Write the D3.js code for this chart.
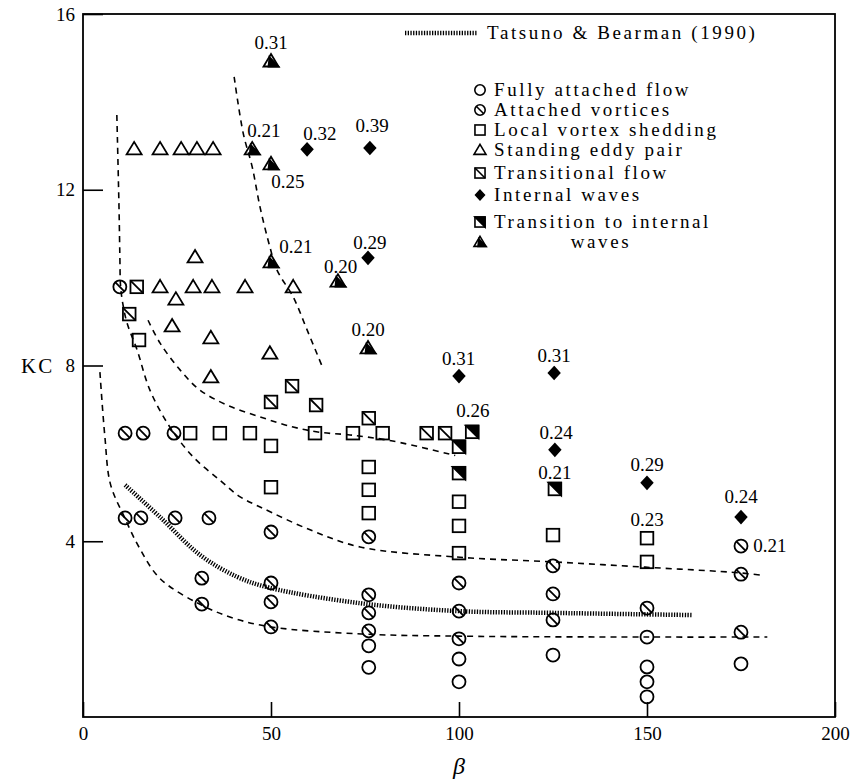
<!DOCTYPE html>
<html>
<head>
<meta charset="utf-8">
<script src="https://cdn.jsdelivr.net/npm/d3@7"></script>
<style>
  html, body { margin: 0; padding: 0; background: #fff; }
  svg { display: block; }
</style>
</head>
<body>
<div id="chart"></div>
<script>
// values: [beta, KC]
const fullyAttached = [[76, 1.62], [76, 1.13], [100, 1.32], [100, 0.8], [125, 1.41],
  [150, 1.82], [150, 1.14], [150, 0.8], [150, 0.46], [175, 1.21]]
const attachedVortices = [[9.8, 9.79], [11.2, 6.46], [16, 6.46], [24.2, 6.46],
  [11.2, 4.53], [15.4, 4.53], [24.5, 4.53], [33.5, 4.53], [50, 4.21], [31.6, 3.16], [31.6, 2.57],
  [50, 3.05], [50, 2.62], [50, 2.05], [76, 4.1], [76, 2.78], [76, 2.37], [76, 1.96],
  [100, 3.05], [100, 2.41], [100, 1.78], [125, 3.44], [125, 2.8], [125, 2.21],
  [150, 2.48], [175, 3.89], [175, 3.25], [175, 1.93]]
const localShedding = [[14.9, 8.58], [28.5, 6.46], [36.4, 6.46], [44.4, 6.46], [61.7, 6.46],
  [71.8, 6.46], [79.7, 6.46], [50, 6.17], [50, 5.23], [76, 5.69], [76, 5.17], [76, 4.64],
  [100, 4.9], [100, 4.35], [100, 3.73], [125, 4.14], [150, 4.07], [150, 3.53]]
const standingEddy = [[13.6, 12.93], [20.5, 12.93], [26.1, 12.93], [30.3, 12.93], [34.6, 12.93],
  [29.8, 10.47], [20.5, 9.79], [29.3, 9.79], [34.3, 9.79], [43.1, 9.79], [55.9, 9.79],
  [24.7, 9.51], [23.7, 8.9], [34, 8.63], [49.7, 8.28], [34, 7.74]]
const transitional = [[14.3, 9.79], [12.3, 9.17], [55.6, 7.53], [50, 7.17], [62, 7.1],
  [76, 6.8], [91.4, 6.46], [96.3, 6.46]]
const internalWaves = [[59.6, 12.92], [76.3, 12.95], [75.8, 10.45], [100, 7.76], [125.3, 7.83],
  [125.5, 6.08], [150, 5.33], [175, 4.55]]
const toWavesSquare = [[103.5, 6.49], [100, 6.15], [100, 5.55], [125.5, 5.19]]
const toWavesTriangle = [[50, 14.93], [45, 12.93], [50, 12.59], [50, 10.36], [67.8, 9.92], [75.8, 8.4]]

// numbers printed next to the wave points: [text, beta, KC of baseline]
const valueLabels = [["0.31", 50, 15.2], ["0.21", 48.1, 13.2], ["0.25", 54.5, 12.04],
  ["0.32", 63, 13.13], ["0.39", 76.9, 13.31], ["0.21", 56.6, 10.56], ["0.20", 68.5, 10.1],
  ["0.29", 76.3, 10.65], ["0.20", 75.8, 8.67], ["0.31", 99.9, 8.01], ["0.31", 125.3, 8.08],
  ["0.26", 103.7, 6.83], ["0.24", 125.8, 6.33], ["0.21", 125.5, 5.42], ["0.29", 150, 5.6],
  ["0.23", 150, 4.35], ["0.24", 175, 4.87], ["0.21", 182.7, 3.76]]

// boundary curves (dashed) and Tatsuno & Bearman (dotted)
const boundaryA = [[4.5, 7.85], [5.8, 6.4], [7.3, 5.3], [11, 4.55], [15, 3.85], [20.5, 3.15],
  [31, 2.57], [40, 2.25], [50, 2.05], [74, 1.89], [100, 1.84], [150, 1.82], [182, 1.82]]
const boundaryB = [[9, 13.7], [9.6, 11.5], [9.8, 10.5], [10, 9.8], [10.6, 9.4], [11.7, 8.97],
  [14.4, 8.35], [17.8, 7.44], [23.1, 6.6], [29.3, 5.92], [36.4, 5.39], [41.8, 5.01],
  [47.1, 4.78], [60.4, 4.26], [73.7, 3.87], [99.5, 3.64], [125, 3.53], [149.5, 3.41],
  [174.7, 3.28], [181, 3.22]]
const boundaryC = [[17.3, 9.03], [20.5, 8.51], [25.8, 7.9], [31.1, 7.44], [38.3, 7.1],
  [47.1, 6.83], [55.9, 6.6], [63, 6.48], [71, 6.42], [82.4, 6.28], [99, 5.95]]
const boundaryD = [[40.2, 14.57], [42.6, 13.29], [45, 12.52], [47.1, 11.6], [49.7, 10.7],
  [51.6, 10.17], [55.9, 9.56], [59.6, 8.81], [63.8, 7.94]]
const tatsuno = [[11.2, 5.28], [20.5, 4.55], [31.1, 3.69], [41, 3.19], [49.7, 2.94],
  [73.7, 2.59], [100, 2.41], [125, 2.37], [162, 2.32]]

const xTicks = [0, 50, 100, 150, 200]
const yTicks = [4, 8, 12, 16]

const width = 853, height = 783
const margin = { top: 14, right: 18, bottom: 66, left: 83 }
const serif = "'Liberation Serif', 'Times New Roman', serif"

const x = d3.scaleLinear().domain([0, 200]).range([margin.left, width - margin.right])
const y = d3.scaleLinear().domain([0, 16]).range([height - margin.bottom, margin.top])

const svg = d3.select("#chart").append("svg")
  .attr("width", width).attr("height", height)
  .attr("font-family", serif)

// axes: ticks point into the frame
svg.append("g")
  .attr("transform", `translate(0,${y(0)})`)
  .call(d3.axisBottom(x).tickValues(xTicks).tickSizeInner(-15).tickSizeOuter(0).tickPadding(10))
  .call(g => g.select(".domain").remove())
  .call(g => g.selectAll(".tick line").attr("stroke", "#000").attr("stroke-width", 1.6))
  .call(g => g.selectAll(".tick text").attr("font-size", 19).attr("font-family", serif).attr("fill", "#000"))

svg.append("g")
  .attr("transform", `translate(${x(0)},0)`)
  .call(d3.axisLeft(y).tickValues(yTicks).tickSizeInner(-20).tickSizeOuter(0).tickPadding(8))
  .call(g => g.select(".domain").remove())
  .call(g => g.selectAll(".tick line").attr("stroke", "#000").attr("stroke-width", 1.6))
  .call(g => g.selectAll(".tick text").attr("font-size", 19).attr("font-family", serif).attr("fill", "#000"))

svg.append("rect")
  .attr("x", x(0)).attr("y", y(16))
  .attr("width", x(200) - x(0)).attr("height", y(0) - y(16))
  .attr("fill", "none").attr("stroke", "#000").attr("stroke-width", 1.8)

svg.append("text")
  .attr("x", 21).attr("y", y(8) + 7)
  .attr("font-size", 21).attr("letter-spacing", 2)
  .text("KC")

svg.append("text")
  .attr("x", x(100)).attr("y", 774)
  .attr("text-anchor", "middle")
  .attr("font-size", 24).attr("font-style", "italic")
  .text("β")

// curves
const line = d3.line().x(d => x(d[0])).y(d => y(d[1])).curve(d3.curveCatmullRom.alpha(0.5))

;[boundaryA, boundaryB, boundaryC, boundaryD].forEach(c => {
  svg.append("path").attr("d", line(c))
    .attr("fill", "none").attr("stroke", "#000")
    .attr("stroke-width", 1.6).attr("stroke-dasharray", "6,5")
})

svg.append("path").attr("d", line(tatsuno))
  .attr("fill", "none").attr("stroke", "#000")
  .attr("stroke-width", 4.5).attr("stroke-dasharray", "1.3,1.4")

// marker drawing
const sq = 6.3, cr = 6.5
const markers = {
  circle: g => g.append("circle").attr("r", cr),
  vortex: g => {
    g.append("circle").attr("r", cr)
    g.append("line").attr("x1", -cr * 0.72).attr("y1", -cr * 0.72).attr("x2", cr * 0.72).attr("y2", cr * 0.72)
  },
  square: g => g.append("rect").attr("x", -sq).attr("y", -sq).attr("width", sq * 2).attr("height", sq * 2),
  transitional: g => {
    g.append("rect").attr("x", -sq).attr("y", -sq).attr("width", sq * 2).attr("height", sq * 2)
    g.append("line").attr("x1", -sq).attr("y1", -sq).attr("x2", sq).attr("y2", sq)
  },
  triangle: g => g.append("polygon").attr("points", "0,-7 7.5,5.5 -7.5,5.5"),
  diamond: g => g.append("polygon").attr("points", "0,-6 5.5,0 0,6 -5.5,0").attr("fill", "#000"),
  halfSquare: g => {
    g.append("polygon").attr("points", `${-sq},${-sq} ${sq},${-sq} ${sq},${sq}`).attr("fill", "#000")
    g.append("rect").attr("x", -sq).attr("y", -sq).attr("width", sq * 2).attr("height", sq * 2)
  },
  halfTriangle: g => {
    g.append("polygon").attr("points", "-1.5,-4 7.5,5.5 -2.5,5.5").attr("fill", "#000")
    g.append("polygon").attr("points", "0,-7 7.5,5.5 -7.5,5.5")
  }
}

function drawSeries(data, kind) {
  data.forEach(d => {
    const g = svg.append("g")
      .attr("transform", `translate(${x(d[0])},${y(d[1])})`)
      .attr("fill", "none").attr("stroke", "#000").attr("stroke-width", 1.8)
    markers[kind](g)
  })
}

drawSeries(fullyAttached, "circle")
drawSeries(attachedVortices, "vortex")
drawSeries(localShedding, "square")
drawSeries(standingEddy, "triangle")
drawSeries(transitional, "transitional")
drawSeries(internalWaves, "diamond")
drawSeries(toWavesSquare, "halfSquare")
drawSeries(toWavesTriangle, "halfTriangle")

svg.append("g").selectAll("text").data(valueLabels).join("text")
  .attr("x", d => x(d[1])).attr("y", d => y(d[2]))
  .attr("text-anchor", "middle").attr("font-size", 19)
  .text(d => d[0])

// legend
const legend = svg.append("g").attr("font-size", 19).attr("letter-spacing", 2.6)
legend.append("line")
  .attr("x1", 405).attr("x2", 477).attr("y1", 33).attr("y2", 33)
  .attr("stroke", "#000").attr("stroke-width", 4.5).attr("stroke-dasharray", "1.3,1.4")
legend.append("text").attr("x", 487).attr("y", 39).text("Tatsuno & Bearman (1990)")

const legendRows = [
  ["circle", "Fully attached flow", 90],
  ["vortex", "Attached vortices", 110],
  ["square", "Local vortex shedding", 130],
  ["triangle", "Standing eddy pair", 150],
  ["transitional", "Transitional flow", 173],
  ["diamond", "Internal waves", 195],
  ["halfSquare", "Transition to internal", 222],
  ["halfTriangle", "", 242]
]
legendRows.forEach(([kind, label, ly]) => {
  const g = legend.append("g")
    .attr("transform", `translate(480,${ly}) scale(0.8)`)
    .attr("fill", "none").attr("stroke", "#000").attr("stroke-width", 2)
  markers[kind](g)
  if (label) legend.append("text").attr("x", 494).attr("y", ly + 6).text(label)
})
legend.append("text").attr("x", 601).attr("y", 248).attr("text-anchor", "middle").text("waves")
</script>
</body>
</html>
